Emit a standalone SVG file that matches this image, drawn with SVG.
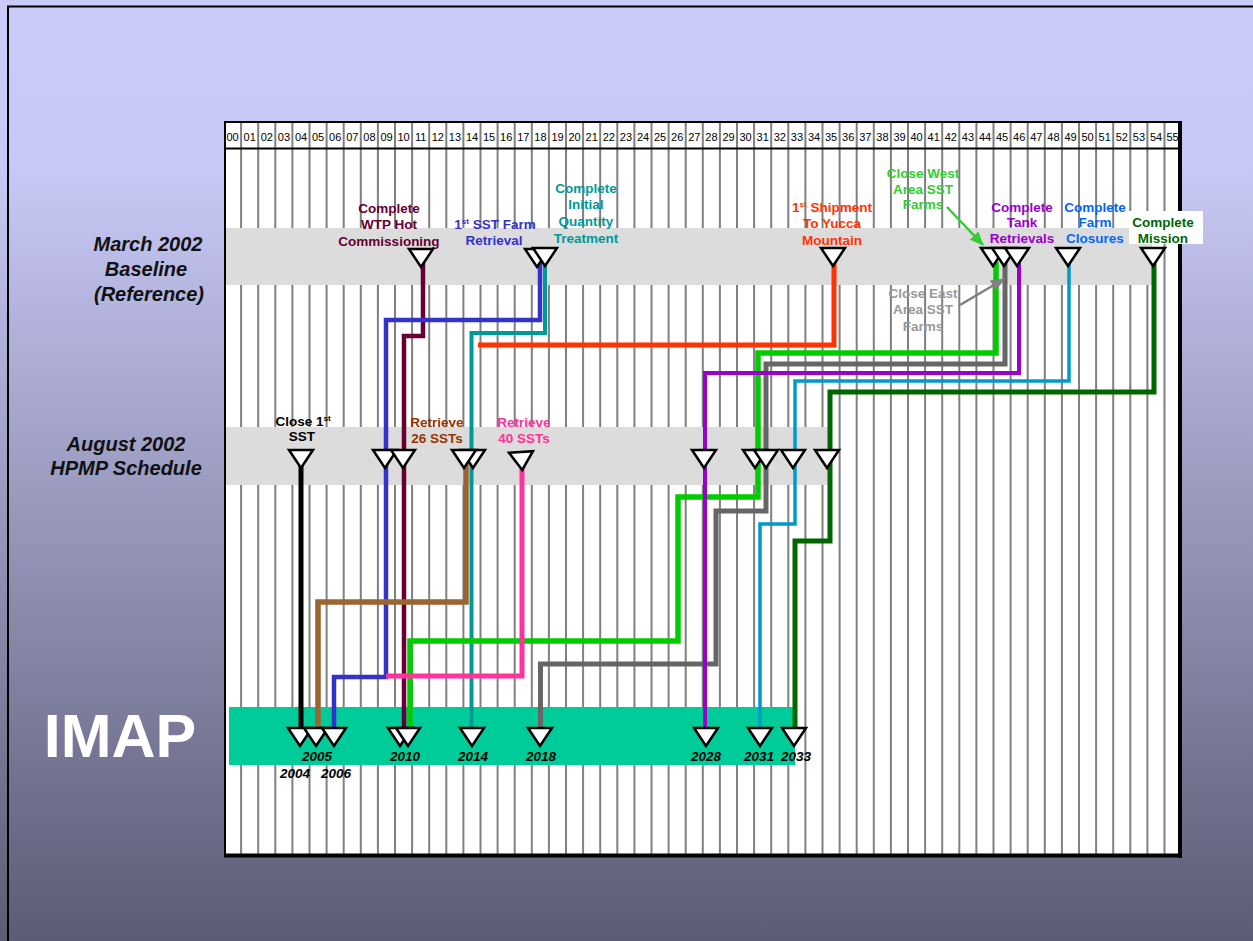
<svg xmlns="http://www.w3.org/2000/svg" xmlns:xlink="http://www.w3.org/1999/xlink" width="1253" height="941" viewBox="0 0 1253 941">
<defs>
<linearGradient id="bg" x1="0" y1="0" x2="0" y2="1">
<stop offset="0" stop-color="#CACBF9"/>
<stop offset="0.18" stop-color="#C7C8F5"/>
<stop offset="1" stop-color="#5C5C75"/>
</linearGradient>
<path id="tri" d="M-12,0 L12,0 L0,18 Z"/>
<marker id="ahG" markerWidth="14" markerHeight="12" refX="13" refY="6" orient="auto" markerUnits="userSpaceOnUse"><path d="M0,0 L14,6 L0,12 Z" fill="#33CC33"/></marker>
<marker id="ahY" markerWidth="14" markerHeight="12" refX="13" refY="6" orient="auto" markerUnits="userSpaceOnUse"><path d="M0,0 L14,6 L0,12 Z" fill="#808080"/></marker>
</defs>
<style>
.hdr{font-family:"Liberation Sans",Arial,sans-serif;font-size:11px;fill:#000;text-anchor:middle}
.lbl{font-family:"Liberation Sans",Arial,sans-serif;font-size:13.5px;font-weight:bold;text-anchor:middle}
.row{font-family:"Liberation Sans",Arial,sans-serif;font-size:20px;font-weight:bold;font-style:italic;fill:#111;text-anchor:middle}
.yr{font-family:"Liberation Sans",Arial,sans-serif;font-size:13.5px;font-weight:bold;font-style:italic;fill:#000;text-anchor:middle}
.tri{fill:#fff;stroke:#000;stroke-width:2.5;stroke-linejoin:miter}
.grid{stroke:#808080;stroke-width:2;fill:none}
.con{fill:none;stroke-linejoin:miter;stroke-linecap:butt}
.sup{font-size:8px}
</style>
<rect x="0" y="0" width="1253" height="941" fill="url(#bg)"/>
<path d="M7,6.5 H1253 M8,6 V941" stroke="#000" stroke-width="2" fill="none"/>

<rect x="224" y="122" width="957" height="734" fill="#fff"/>
<path class="grid" d="M241.1,122V855M258.2,122V855M275.3,122V855M292.4,122V855M309.5,122V855M326.6,122V855M343.7,122V855M360.8,122V855M377.9,122V855M395,122V855M412.1,122V855M429.2,122V855M446.3,122V855M463.4,122V855M480.5,122V855M497.6,122V855M514.7,122V855M531.8,122V855M548.9,122V855M566,122V855M583.1,122V855M600.2,122V855M617.3,122V855M634.4,122V855M651.5,122V855M668.6,122V855M685.7,122V855M702.8,122V855M719.9,122V855M737,122V855M754.1,122V855M771.2,122V855M788.3,122V855M805.4,122V855M822.5,122V855M839.6,122V855M856.7,122V855M873.8,122V855M890.9,122V855M908,122V855M925.1,122V855M942.2,122V855M959.3,122V855M976.4,122V855M993.5,122V855M1010.6,122V855M1027.7,122V855M1044.8,122V855M1061.9,122V855M1079,122V855M1096.1,122V855M1113.2,122V855M1130.3,122V855M1147.4,122V855M1164.5,122V855"/>
<g id="header">
<text class="hdr" y="141"><tspan x="232.6">00</tspan><tspan x="249.7">01</tspan><tspan x="266.8">02</tspan><tspan x="283.9">03</tspan><tspan x="301">04</tspan><tspan x="318.1">05</tspan><tspan x="335.2">06</tspan><tspan x="352.3">07</tspan><tspan x="369.4">08</tspan><tspan x="386.5">09</tspan><tspan x="403.6">10</tspan><tspan x="420.7">11</tspan><tspan x="437.8">12</tspan><tspan x="454.9">13</tspan><tspan x="472">14</tspan><tspan x="489.1">15</tspan><tspan x="506.2">16</tspan><tspan x="523.3">17</tspan><tspan x="540.4">18</tspan><tspan x="557.5">19</tspan><tspan x="574.6">20</tspan><tspan x="591.7">21</tspan><tspan x="608.8">22</tspan><tspan x="625.9">23</tspan><tspan x="643">24</tspan><tspan x="660.1">25</tspan><tspan x="677.2">26</tspan><tspan x="694.3">27</tspan><tspan x="711.4">28</tspan><tspan x="728.5">29</tspan><tspan x="745.6">30</tspan><tspan x="762.7">31</tspan><tspan x="779.8">32</tspan><tspan x="796.9">33</tspan><tspan x="814">34</tspan><tspan x="831.1">35</tspan><tspan x="848.2">36</tspan><tspan x="865.3">37</tspan><tspan x="882.4">38</tspan><tspan x="899.5">39</tspan><tspan x="916.6">40</tspan><tspan x="933.7">41</tspan><tspan x="950.8">42</tspan><tspan x="967.9">43</tspan><tspan x="985">44</tspan><tspan x="1002.1">45</tspan><tspan x="1019.2">46</tspan><tspan x="1036.3">47</tspan><tspan x="1053.4">48</tspan><tspan x="1070.5">49</tspan><tspan x="1087.6">50</tspan><tspan x="1104.7">51</tspan><tspan x="1121.8">52</tspan><tspan x="1138.9">53</tspan><tspan x="1156">54</tspan><tspan x="1172.5">55</tspan></text>
<path d="M224,148.5 H1181" stroke="#000" stroke-width="2.2"/>
</g>

<g id="bands">
<rect x="224" y="228" width="928" height="57" fill="#DCDCDC"/>
<rect x="224" y="427" width="604" height="58" fill="#DCDCDC"/>
<rect x="229" y="707" width="566" height="58" fill="#00CC99"/>
</g>

<g id="row-labels">
<text class="row" x="148" y="251">March 2002</text>
<text class="row" x="146" y="276">Baseline</text>
<text class="row" x="149" y="301">(Reference)</text>
<text class="row" x="126" y="451">August 2002</text>
<text class="row" x="126" y="475">HPMP Schedule</text>
<text x="120" y="757" font-family="'Liberation Sans',Arial,sans-serif" font-size="61" font-weight="bold" fill="#fff" text-anchor="middle">IMAP</text>
</g>

<g id="labels">
<text class="lbl" fill="#660033"><tspan x="389" y="213">Complete</tspan><tspan x="389" y="229">WTP Hot</tspan><tspan x="389" y="246">Commissioning</tspan></text>
<text class="lbl" fill="#3333CC"><tspan x="495" y="229">1<tspan class="sup" dy="-5">st</tspan><tspan dy="5"> SST Farm</tspan></tspan><tspan x="494" y="245">Retrieval</tspan></text>
<text class="lbl" fill="#009999"><tspan x="586" y="193">Complete</tspan><tspan x="586" y="209">Initial</tspan><tspan x="586" y="226">Quantity</tspan><tspan x="586" y="243">Treatment</tspan></text>
<text class="lbl" fill="#FF3300"><tspan x="832" y="212">1<tspan class="sup" dy="-5">st</tspan><tspan dy="5">  Shipment</tspan></tspan><tspan x="832" y="228">To Yucca</tspan><tspan x="832" y="245">Mountain</tspan></text>
<text class="lbl" fill="#33CC33"><tspan x="923" y="178">Close West</tspan><tspan x="923" y="194">Area SST</tspan><tspan x="923" y="209">Farms</tspan></text>
<text class="lbl" fill="#999999"><tspan x="923" y="298">Close East</tspan><tspan x="923" y="314">Area SST</tspan><tspan x="923" y="331">Farms</tspan></text>
<text class="lbl" fill="#9900CC"><tspan x="1022" y="212">Complete</tspan><tspan x="1022" y="227">Tank</tspan><tspan x="1022" y="243">Retrievals</tspan></text>
<text class="lbl" fill="#0066FF"><tspan x="1095" y="212">Complete</tspan><tspan x="1095" y="227">Farm</tspan><tspan x="1095" y="243">Closures</tspan></text>
<text class="lbl" fill="#000"><tspan x="303" y="426">Close 1<tspan class="sup" dy="-5">st</tspan></tspan><tspan x="302" y="441">SST</tspan></text>
<text class="lbl" fill="#993300"><tspan x="437" y="427">Retrieve</tspan><tspan x="437" y="443">26 SSTs</tspan></text>
<text class="lbl" fill="#FF3399"><tspan x="524" y="427">Retrieve</tspan><tspan x="524" y="443">40 SSTs</tspan></text>
</g>

<g id="connectors">
<path class="con" stroke="#660033" stroke-width="4.5" d="M423,262 V336 H404 V737"/>
<path class="con" stroke="#3333CC" stroke-width="4.5" d="M540,262 V320 H386 V677 H334 V737"/>
<path class="con" stroke="#009999" stroke-width="4" d="M545,262 V333 H471.5 V737"/>
<path class="con" stroke="#FF3300" stroke-width="5" d="M834,262 V345 H478"/>
<path class="con" stroke="#00CC00" stroke-width="5.5" d="M996,262 V353 H758 V497 H678 V641 H410 V737"/>
<path class="con" stroke="#666666" stroke-width="5" d="M1005,262 V364 H766 V511 H716 V664 H540.5 V737"/>
<path class="con" stroke="#9900CC" stroke-width="4" d="M1019,262 V373 H705 V737"/>
<path class="con" stroke="#0099CC" stroke-width="3.5" d="M1069,262 V381 H795 V524 H760 V737"/>
<path class="con" stroke="#006600" stroke-width="5" d="M1154,262 V392 H830 V541 H795 V737"/>
<path class="con" stroke="#000000" stroke-width="5" d="M301,462 V737"/>
<path class="con" stroke="#996633" stroke-width="5.5" d="M466,462 V602 H318 V737"/>
<path class="con" stroke="#FF3399" stroke-width="5" d="M522,464 V676 H386"/>
<path fill="none" stroke="#33CC33" stroke-width="2.5" marker-end="url(#ahG)" d="M947,207 L983,245"/>
<path fill="none" stroke="#808080" stroke-width="2.5" marker-end="url(#ahY)" d="M960,305 L1004,279"/>
</g>

<g id="baseline-milestones">
<use href="#tri" class="tri" x="421" y="249"/>
<use href="#tri" class="tri" x="537" y="249"/>
<use href="#tri" class="tri" x="545" y="248"/>
<use href="#tri" class="tri" x="833" y="248"/>
<use href="#tri" class="tri" x="993" y="248"/>
<use href="#tri" class="tri" x="1004" y="248"/>
<use href="#tri" class="tri" x="1017" y="248"/>
<use href="#tri" class="tri" x="1068" y="248"/>
<use href="#tri" class="tri" x="1153" y="248"/>
</g>

<g id="hpmp-milestones">
<use href="#tri" class="tri" x="301" y="450"/>
<use href="#tri" class="tri" x="385" y="450"/>
<use href="#tri" class="tri" x="403" y="450"/>
<use href="#tri" class="tri" x="473" y="450"/>
<use href="#tri" class="tri" x="464" y="450"/>
<use href="#tri" class="tri" x="521" y="452" transform="rotate(-4 521 452)"/>
<use href="#tri" class="tri" x="704" y="450"/>
<use href="#tri" class="tri" x="755" y="450"/>
<use href="#tri" class="tri" x="766" y="450"/>
<use href="#tri" class="tri" x="793" y="450"/>
<use href="#tri" class="tri" x="827" y="450"/>
</g>

<g id="imap-milestones">
<use href="#tri" class="tri" x="300" y="728"/>
<use href="#tri" class="tri" x="316" y="728"/>
<use href="#tri" class="tri" x="334" y="728"/>
<use href="#tri" class="tri" x="400" y="728"/>
<use href="#tri" class="tri" x="408" y="728"/>
<use href="#tri" class="tri" x="472" y="728"/>
<use href="#tri" class="tri" x="540" y="728"/>
<use href="#tri" class="tri" x="706" y="728"/>
<use href="#tri" class="tri" x="760" y="728"/>
<use href="#tri" class="tri" x="794" y="728"/>
<text class="yr" x="317" y="761">2005</text>
<text class="yr" x="405" y="761">2010</text>
<text class="yr" x="473" y="761">2014</text>
<text class="yr" x="541" y="761">2018</text>
<text class="yr" x="706" y="761">2028</text>
<text class="yr" x="759" y="761">2031</text>
<text class="yr" x="796" y="761">2033</text>
<text class="yr" x="295" y="778">2004</text>
<text class="yr" x="336" y="778">2006</text>
</g>

<g id="frame">
<path d="M224,122 H1181 M225,122 V856" stroke="#000" stroke-width="2" fill="none"/>
<path d="M1180,121 V858 M224,855.5 H1182" stroke="#000" stroke-width="4" fill="none"/>
</g>

<g id="complete-mission">
<rect x="1129" y="211" width="74" height="33" fill="#fff"/>
<text class="lbl" fill="#006600"><tspan x="1163" y="227">Complete</tspan><tspan x="1163" y="243">Mission</tspan></text>
</g>
</svg>
